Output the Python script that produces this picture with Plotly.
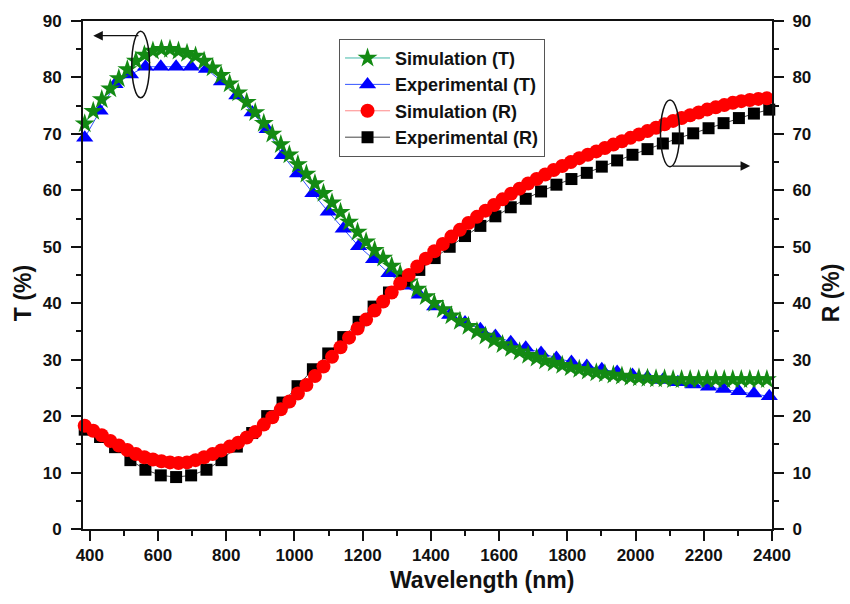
import plotly.graph_objects as go

# Wavelength grids (nm)
wl_sim = list(range(385, 2386, 25))
wl_exp = [385, 430, 474, 519, 563, 608, 653, 697, 742, 786, 831, 876, 920, 965,
          1009, 1054, 1099, 1143, 1188, 1232, 1277, 1322, 1366, 1411, 1455, 1500,
          1545, 1589, 1634, 1678, 1723, 1768, 1812, 1857, 1901, 1946, 1991, 2035,
          2080, 2124, 2169, 2214, 2258, 2303, 2347, 2392]

# Transmittance, simulated (%)
t_sim = [71.8, 74.0, 76.1, 78.0, 79.8, 81.4, 82.9, 84.0, 84.7, 85.0,
         85.0, 84.7, 84.3, 83.8, 82.9, 81.7, 80.4, 78.9, 77.3, 75.6,
         73.8, 71.9, 70.0, 68.1, 66.3, 64.6, 62.9, 61.2, 59.5, 57.8,
         56.1, 54.4, 52.6, 50.9, 49.4, 48.0, 46.6, 45.2, 43.8, 42.5,
         41.2, 40.0, 38.9, 37.8, 36.8, 35.9, 35.0, 34.2, 33.4, 32.7,
         32.0, 31.4, 30.8, 30.3, 29.8, 29.4, 29.0, 28.6, 28.3, 28.0,
         27.7, 27.5, 27.3, 27.1, 26.9, 26.8, 26.7, 26.6, 26.6, 26.5,
         26.5, 26.5, 26.5, 26.5, 26.5, 26.5, 26.5, 26.5, 26.5, 26.5, 26.5]

# Transmittance, measured (%)
t_exp = [69.3, 74.1, 78.8, 80.5, 81.9, 81.9, 81.9, 81.9, 81.5, 79.3,
         76.8, 73.8, 70.8, 66.2, 63.0, 59.5, 56.2, 53.2, 50.1, 47.8,
         45.3, 43.1, 41.5, 39.4, 37.9, 36.6, 35.4, 34.2, 33.1, 32.1,
         31.2, 30.3, 29.6, 28.9, 28.3, 27.8, 27.3, 26.9, 26.4, 26.0,
         25.6, 25.2, 24.8, 24.4, 24.0, 23.5]

# Reflectance, simulated (%)
r_sim = [18.3, 17.4, 16.6, 15.6, 14.8, 14.0, 13.3, 12.7, 12.3, 12.0,
         11.8, 11.7, 11.8, 12.2, 12.7, 13.3, 13.9, 14.6, 15.3, 16.2,
         17.2, 18.5, 19.8, 21.2, 22.6, 24.0, 25.5, 27.1, 28.8, 30.5,
         32.2, 33.9, 35.5, 37.1, 38.7, 40.3, 41.9, 43.5, 45.0, 46.5,
         47.9, 49.2, 50.5, 51.8, 53.0, 54.2, 55.3, 56.4, 57.4, 58.4,
         59.4, 60.3, 61.2, 62.0, 62.8, 63.6, 64.3, 65.0, 65.7, 66.3,
         66.9, 67.5, 68.1, 68.7, 69.3, 69.9, 70.5, 71.1, 71.7, 72.3,
         72.8, 73.3, 73.8, 74.3, 74.7, 75.1, 75.5, 75.8, 76.0, 76.2, 76.3]

# Reflectance, measured (%)
r_exp = [17.6, 16.3, 14.5, 12.2, 10.5, 9.5, 9.2, 9.5, 10.5, 12.2,
         14.6, 17.0, 20.0, 22.4, 25.3, 28.3, 31.1, 34.0, 36.7, 39.4,
         41.9, 44.0, 45.9, 48.0, 50.0, 51.9, 53.7, 55.4, 57.0, 58.5,
         59.8, 61.0, 62.0, 63.1, 64.2, 65.3, 66.3, 67.3, 68.3, 69.2,
         70.1, 71.0, 71.9, 72.8, 73.6, 74.3]

FONT = "Liberation Sans, Arial, sans-serif"

fig = go.Figure()

fig.add_trace(go.Scatter(
    x=wl_exp, y=t_exp, name="Experimental (T)", mode="lines+markers",
    line=dict(color="#3355ff", width=1),
    marker=dict(symbol="triangle-up", size=15, color="#0000ff"),
    legendrank=2, cliponaxis=False))
fig.add_trace(go.Scatter(
    x=wl_sim, y=t_sim, name="Simulation (T)", mode="lines+markers",
    line=dict(color="#40b8a8", width=1),
    marker=dict(symbol="star", size=15, color="#138a13"),
    legendrank=1, cliponaxis=False))
fig.add_trace(go.Scatter(
    x=wl_exp, y=r_exp, name="Experimental (R)", mode="lines+markers",
    line=dict(color="#444444", width=1),
    marker=dict(symbol="square", size=12, color="#000000"),
    legendrank=4, yaxis="y2", cliponaxis=False))
fig.add_trace(go.Scatter(
    x=wl_sim, y=r_sim, name="Simulation (R)", mode="lines+markers",
    line=dict(color="#ff8888", width=1),
    marker=dict(symbol="circle", size=14, color="#ff0000"),
    legendrank=3, yaxis="y2", cliponaxis=False))

axis_common = dict(
    showline=True, linecolor="#111111", linewidth=2,
    ticks="outside", ticklen=10, tickwidth=2, tickcolor="#111111",
    showgrid=False, zeroline=False,
    tickfont=dict(family=FONT, size=17, color="#111111", weight="bold"),
)
minor_y = dict(dtick=5, tick0=0, ticklen=5, tickwidth=2,
               tickcolor="#111111", ticks="outside")

fig.update_layout(
    width=850, height=604,
    margin=dict(l=83, r=78, t=16, b=75),
    paper_bgcolor="white", plot_bgcolor="white",
    xaxis=dict(range=[380, 2400], tickvals=list(range(400, 2401, 200)),
               mirror=True,
               minor=dict(tickvals=list(range(500, 2400, 200)), ticklen=5,
                          tickwidth=2, tickcolor="#111111", ticks="outside"),
               **axis_common),
    yaxis=dict(range=[0, 90], dtick=10, tick0=0, minor=minor_y,
               ticklabelstandoff=6, **axis_common),
    yaxis2=dict(range=[0, 90], dtick=10, tick0=0, overlaying="y", side="right",
                minor=minor_y, ticklabelstandoff=5, **axis_common),
    legend=dict(x=0.3716, y=0.965, xanchor="left", yanchor="top",
                bordercolor="#555555", borderwidth=1, bgcolor="white",
                itemwidth=45, tracegroupgap=0,
                font=dict(family=FONT, size=18, color="#111111", weight="bold")),
    showlegend=True,
)

# Axis titles
title_font = dict(family=FONT, size=23, color="#111111", weight="bold")
fig.add_annotation(text="Wavelength (nm)", xref="paper", yref="paper",
                   x=0.579, y=-0.10, xanchor="center", yanchor="middle",
                   showarrow=False, font=title_font)
fig.add_annotation(text="T (%)", xref="paper", yref="paper",
                   x=-0.088, y=0.465, textangle=-90, xanchor="center",
                   yanchor="middle", showarrow=False, font=title_font)
fig.add_annotation(text="R (%)", xref="paper", yref="paper",
                   x=1.085, y=0.465, textangle=-90, xanchor="center",
                   yanchor="middle", showarrow=False, font=title_font)

# Ellipses marking which curves belong to which axis
fig.add_shape(type="circle", xref="x", yref="y",
              x0=523, x1=575, y0=76.4, y1=88.2,
              line=dict(color="#111111", width=1.5))
fig.add_shape(type="circle", xref="x", yref="y",
              x0=2073, x1=2129, y0=64.2, y1=76.0,
              line=dict(color="#111111", width=1.5))

# Arrows pointing to the corresponding axis
fig.add_annotation(x=410, y=87.4, ax=547, ay=87.4, xref="x", yref="y",
                   axref="x", ayref="y", text="", showarrow=True,
                   arrowhead=2, arrowsize=1.6, arrowwidth=1.2,
                   arrowcolor="#111111")
fig.add_annotation(x=2336, y=64.3, ax=2104, ay=64.3, xref="x", yref="y",
                   axref="x", ayref="y", text="", showarrow=True,
                   arrowhead=2, arrowsize=1.6, arrowwidth=1.2,
                   arrowcolor="#111111")

fig.write_html("out.html")
